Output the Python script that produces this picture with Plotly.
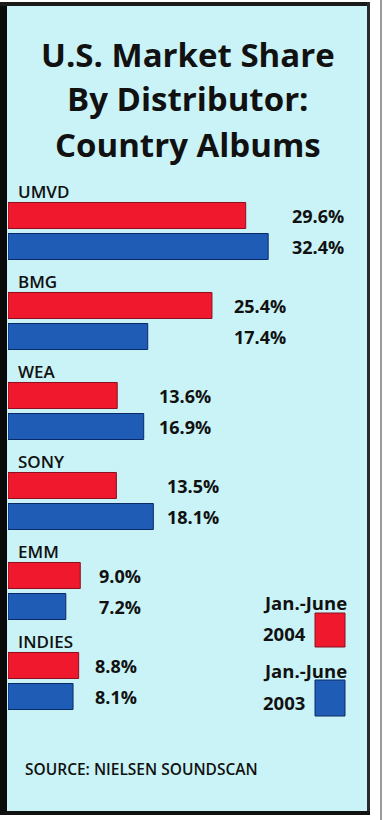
import plotly.graph_objects as go

# ---- data ----
distributors = ["UMVD", "BMG", "WEA", "SONY", "EMM", "INDIES"]
share_2004 = [29.6, 25.4, 13.6, 13.5, 9.0, 8.8]
share_2003 = [32.4, 17.4, 16.9, 18.1, 7.2, 8.1]
series_names = ["Jan.-June 2004", "Jan.-June 2003"]
title_lines = ["U.S. Market Share", "By Distributor:", "Country Albums"]
source_text = "SOURCE: NIELSEN SOUNDSCAN"

# ---- layout constants ----
W, H = 390, 820
ML, MR, MT, MB = 8, 20, 186, 94
PW, PH = W - ML - MR, H - MT - MB
XMAX = PW / 8.03  # ~8 px per percentage point

RED = "#f0182c"
RED_EDGE = "#8a1020"
BLUE = "#1f5cb6"
BLUE_EDGE = "#0c2a66"
PANEL = "#c9f3f6"
INK = "#111111"
FONT = "Open Sans"
label_gap_px = [22, 20, 13, 12, 17, 14]


def px(x):
    return (x - ML) / PW


def py(y):
    return (H - MB - y) / PH


fig = go.Figure()
fig.add_trace(go.Bar(
    y=distributors, x=share_2004, orientation="h", name=series_names[0],
    marker=dict(color=RED, line=dict(color=RED_EDGE, width=1)),
))
fig.add_trace(go.Bar(
    y=distributors, x=share_2003, orientation="h", name=series_names[1],
    marker=dict(color=BLUE, line=dict(color=BLUE_EDGE, width=1)),
))

annotations = []
# title
for i, line in enumerate(title_lines):
    annotations.append(dict(
        text=line, xref="paper", yref="paper", x=px(188), y=py(54 + 45 * i),
        xanchor="center", yanchor="middle", showarrow=False,
        font=dict(family=FONT, size=33, color=INK, weight="bold"),
    ))

# category labels and value labels
for i, cat in enumerate(distributors):
    annotations.append(dict(
        text=cat, xref="paper", yref="y", x=px(16), y=cat, yshift=40,
        xanchor="left", yanchor="middle", showarrow=False,
        font=dict(family=FONT, size=17, color=INK, weight=600),
    ))
    xm = max(share_2004[i], share_2003[i])
    for val, shift in ((share_2004[i], 15.5), (share_2003[i], -15.5)):
        annotations.append(dict(
            text=f"{val:.1f}%", xref="x", yref="y", x=xm, y=cat,
            xshift=label_gap_px[i], yshift=shift,
            xanchor="left", yanchor="middle", showarrow=False,
            font=dict(family=FONT, size=18, color=INK, weight="bold"),
        ))

# legend
legend_rows = [("Jan.-June", "2004", RED, RED_EDGE, 602, 633, 613, 647),
               ("Jan.-June", "2003", BLUE, BLUE_EDGE, 670, 702, 680, 716)]
shapes = []
for l1, l2, col, edge, y1, y2, s0, s1 in legend_rows:
    annotations.append(dict(
        text=l1, xref="paper", yref="paper", x=px(261), y=py(y1),
        xanchor="left", yanchor="middle", showarrow=False,
        font=dict(family=FONT, size=18.5, color=INK, weight="bold"),
    ))
    annotations.append(dict(
        text=l2, xref="paper", yref="paper", x=px(261), y=py(y2),
        xanchor="left", yanchor="middle", showarrow=False,
        font=dict(family=FONT, size=18.5, color=INK, weight="bold"),
    ))
    shapes.append(dict(type="rect", xref="paper", yref="paper",
                       x0=px(315), x1=px(345), y0=py(s1), y1=py(s0),
                       fillcolor=col, line=dict(color=edge, width=1)))

# source
annotations.append(dict(
    text=source_text, xref="paper", yref="paper", x=px(23), y=py(769),
    xanchor="left", yanchor="middle", showarrow=False,
    font=dict(family=FONT, size=15.5, color=INK, weight=600),
))

# panel background and frame
frame = [
    dict(type="rect", x0=px(0), x1=px(369), y0=py(814), y1=py(3),
         fillcolor=PANEL, line=dict(width=0), layer="below"),
    dict(type="rect", x0=px(0), x1=px(7), y0=py(815), y1=py(2),
         fillcolor="#0a0a0a", line=dict(width=0)),
    dict(type="rect", x0=px(0), x1=px(370), y0=py(6), y1=py(2),
         fillcolor="#1a1a1a", line=dict(width=0)),
    dict(type="rect", x0=px(367), x1=px(370), y0=py(815), y1=py(2),
         fillcolor="#2a2a2a", line=dict(width=0)),
    dict(type="rect", x0=px(0), x1=px(370), y0=py(815), y1=py(811),
         fillcolor="#111111", line=dict(width=0)),
    dict(type="rect", x0=px(380), x1=px(382), y0=py(820), y1=py(0),
         fillcolor="#9a9a9a", line=dict(width=0)),
]
for s in frame:
    s.setdefault("xref", "paper")
    s.setdefault("yref", "paper")

fig.update_layout(
    width=W, height=H,
    margin=dict(l=ML, r=MR, t=MT, b=MB),
    paper_bgcolor="white", plot_bgcolor="rgba(0,0,0,0)",
    barmode="group", bargap=0.311, bargroupgap=0.161,
    showlegend=False,
    xaxis=dict(range=[0, XMAX], visible=False, fixedrange=True),
    yaxis=dict(categoryorder="array", categoryarray=distributors,
               range=[len(distributors) - 0.5, -0.5], visible=False,
               fixedrange=True),
    annotations=annotations,
    shapes=frame + shapes,
)

fig.write_html("out.html", config={"displayModeBar": False})
